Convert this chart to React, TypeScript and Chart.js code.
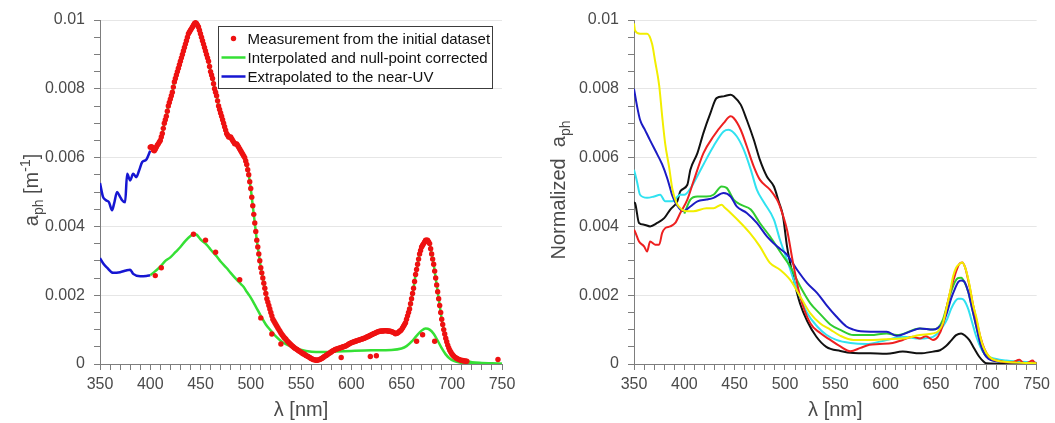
import React, { useEffect, useRef } from 'react';
import { Chart, registerables } from 'chart.js';

Chart.register(...registerables);

const FONT = '"Liberation Sans", Arial, Helvetica, sans-serif';
const AXIS_TEXT = '#4a4a4a';
const AXIS_LINE = '#7d7d7d';
const GRID = '#e6e6e6';

// ---------- axes ----------
const X_MIN = 350;
const X_MAX = 750;
const X_STEP = 10;
const Y_MIN = 0;
const Y_MAX = 0.01;
const Y_STEP = 0.0005;

const legendLabels = [
  'Measurement from the initial dataset',
  'Interpolated and null-point corrected',
  'Extrapolated to the near-UV',
];

// ---------- left panel ----------
// dense measurement, wavelengths 400..715 nm every 1 nm
const measuredHighStart = 400;
const measuredHighStep = 1;
const measuredHigh = [
  0.0063, 0.00632, 0.0063, 0.00622, 0.0062, 0.00624, 0.0063, 0.00636, 0.0064, 0.00645,
  0.0065, 0.0066, 0.0067, 0.00685, 0.007, 0.0071, 0.0072, 0.00735, 0.0075, 0.0076,
  0.0077, 0.0078, 0.0079, 0.00805, 0.0082, 0.0083, 0.0084, 0.0085, 0.0086, 0.0087,
  0.0088, 0.0089, 0.009, 0.0091, 0.0092, 0.0093, 0.0094, 0.0095, 0.0096, 0.00965,
  0.0097, 0.00975, 0.0098, 0.00985, 0.0099, 0.00992, 0.0099, 0.00985, 0.0098, 0.0097,
  0.0096, 0.0095, 0.0094, 0.0093, 0.0092, 0.0091, 0.009, 0.0089, 0.0088, 0.00865,
  0.0085, 0.0084, 0.0083, 0.00815, 0.008, 0.0079, 0.0078, 0.00765, 0.0075, 0.0074,
  0.0073, 0.0072, 0.0071, 0.007, 0.0069, 0.0068, 0.0067, 0.00665, 0.0066, 0.0066,
  0.0066, 0.00655, 0.0065, 0.00645, 0.0064, 0.0064, 0.0064, 0.00635, 0.0063, 0.00625,
  0.0062, 0.00615, 0.0061, 0.00605, 0.006, 0.0059, 0.0058, 0.00565, 0.0055, 0.0053,
  0.0051, 0.00485, 0.0046, 0.00435, 0.0041, 0.00385, 0.0036, 0.0034, 0.0032, 0.003,
  0.0028, 0.00265, 0.0025, 0.00235, 0.0022, 0.00205, 0.0019, 0.0018, 0.0017, 0.0016,
  0.0015, 0.0014, 0.0013, 0.00125, 0.0012, 0.00115, 0.0011, 0.00105, 0.001, 0.00095,
  0.0009, 0.00086, 0.00082, 0.00078, 0.00075, 0.00072, 0.00068, 0.00065, 0.00062, 0.00059,
  0.00056, 0.00053, 0.00051, 0.00048, 0.00046, 0.00044, 0.00042, 0.0004, 0.00038, 0.00036,
  0.00034, 0.00032, 0.0003, 0.00029, 0.00027, 0.00025, 0.00023, 0.00022, 0.0002, 0.00018,
  0.00016, 0.00015, 0.00013, 0.00012, 0.00012, 0.00011, 0.00011, 0.00012, 0.00012, 0.00014,
  0.00015, 0.00017, 0.00019, 0.00021, 0.00023, 0.00025, 0.00027, 0.00029, 0.00031, 0.00033,
  0.00035, 0.00037, 0.00039, 0.0004, 0.00042, 0.00043, 0.00044, 0.00045, 0.00046, 0.00047,
  0.00048, 0.00049, 0.0005, 0.00051, 0.00052, 0.00053, 0.00055, 0.00057, 0.00059, 0.0006,
  0.00062, 0.00063, 0.00064, 0.00065, 0.00066, 0.00067, 0.00068, 0.00069, 0.0007, 0.00071,
  0.00072, 0.00073, 0.00074, 0.00075, 0.00076, 0.00078, 0.00079, 0.0008, 0.00082, 0.00083,
  0.00085, 0.00086, 0.00088, 0.00089, 0.0009, 0.00092, 0.00093, 0.00094, 0.00095, 0.00095,
  0.00096, 0.00096, 0.00096, 0.00097, 0.00097, 0.00097, 0.00096, 0.00096, 0.00095, 0.00095,
  0.00094, 0.00093, 0.00092, 0.0009, 0.00088, 0.00089, 0.0009, 0.00092, 0.00095, 0.00097,
  0.001, 0.00105, 0.0011, 0.00115, 0.0012, 0.0013, 0.0014, 0.0015, 0.0016, 0.00175,
  0.0019, 0.00205, 0.0022, 0.0024, 0.0026, 0.00275, 0.0029, 0.00305, 0.0032, 0.0033,
  0.0034, 0.00345, 0.0035, 0.00355, 0.0036, 0.0036, 0.0036, 0.00355, 0.0035, 0.00335,
  0.0032, 0.00305, 0.0029, 0.0027, 0.0025, 0.0023, 0.0021, 0.0019, 0.0017, 0.0015,
  0.0013, 0.00115, 0.001, 0.00087, 0.00075, 0.00065, 0.00055, 0.00047, 0.0004, 0.00035,
  0.0003, 0.00026, 0.00023, 0.0002, 0.00018, 0.00016, 0.00015, 0.00013, 0.00012, 0.00011,
  0.0001, 0.0001, 0.00009, 0.00009, 0.00008, 0.00008,
];
const correctedHighTailWl = [720, 730, 740, 750];
const correctedHighTail = [0.00005, 0.00003, 0.00002, 0.00001];

const extrapHighWl = [350, 353, 356, 359, 362, 364, 367, 370, 372, 375, 377, 380, 383, 386, 389, 392, 396, 400];
const extrapHigh = [0.00526, 0.00486, 0.00476, 0.0047, 0.00447, 0.00466, 0.005, 0.00486, 0.00476, 0.0047, 0.00553, 0.00534, 0.00553, 0.00543, 0.00563, 0.00587, 0.00594, 0.0062];

const measuredLowWl = [405, 411, 443, 455, 465, 489, 510, 521, 530, 590, 619, 625, 665, 671, 683, 746];
const measuredLow = [0.00257, 0.0028, 0.00377, 0.0036, 0.00325, 0.00245, 0.00134, 0.00087, 0.00058, 0.00019, 0.00022, 0.00024, 0.00066, 0.00085, 0.00066, 0.00013];

const correctedLowWl = [400, 405, 410, 415, 420, 425, 430, 435, 440, 443, 446, 450, 456, 460, 466, 470, 476, 480, 486, 490, 493, 496, 500, 505, 510, 515, 520, 525, 530, 536, 545, 555, 565, 575, 585, 600, 620, 640, 650, 655, 660, 665, 670, 674, 678, 682, 686, 690, 694, 698, 702, 708, 715, 730, 750];
const correctedLow = [0.00258, 0.0027, 0.00283, 0.003, 0.0031, 0.00325, 0.0034, 0.00358, 0.00372, 0.00378, 0.00376, 0.00362, 0.00347, 0.00333, 0.00313, 0.00298, 0.00279, 0.00265, 0.00245, 0.00233, 0.00224, 0.0021, 0.00193, 0.00167, 0.0014, 0.00115, 0.00097, 0.0008, 0.00067, 0.00056, 0.00045, 0.00038, 0.00035, 0.00035, 0.00036, 0.00038, 0.0004, 0.00041, 0.00045, 0.00052, 0.00065, 0.00082, 0.00097, 0.00103, 0.001, 0.00088, 0.00068, 0.00046, 0.00028, 0.00016, 0.00009, 0.00004, 0.00002, 0.00001, 0];

const extrapLowWl = [350, 354, 357, 363, 370, 376, 380, 383, 390, 396, 400];
const extrapLow = [0.00308, 0.00289, 0.0028, 0.00265, 0.00267, 0.00272, 0.00274, 0.00262, 0.00255, 0.00256, 0.00258];

// ---------- right panel ----------
const yellowWl = [350, 351, 356, 363, 368, 371, 375, 378, 381, 385, 388, 392, 396, 400, 409, 422, 429, 437, 440, 446, 456, 465, 475, 485, 495, 505, 515, 525, 535, 545, 555, 568, 585, 601, 617, 634, 647, 652, 657, 661, 664, 667, 670, 673, 676, 679, 683, 687, 690, 694, 697, 703, 710, 716, 730, 750];
const yellowVals = [0.0099, 0.0097, 0.0096, 0.0096, 0.0093, 0.0088, 0.0081, 0.0072, 0.0064, 0.0057, 0.0051, 0.0047, 0.00453, 0.00445, 0.00444, 0.00453, 0.00453, 0.00463, 0.00455, 0.00439, 0.0041, 0.00381, 0.00342, 0.00294, 0.00274, 0.00245, 0.00197, 0.00148, 0.00118, 0.001, 0.00082, 0.0007, 0.0007, 0.00072, 0.00074, 0.00084, 0.00089, 0.00095, 0.0012, 0.0017, 0.0021, 0.00255, 0.0028, 0.0029, 0.00295, 0.0028, 0.00234, 0.0017, 0.00137, 0.0008, 0.0005, 0.00021, 0.0001, 0.00007, 0.00004, 0.00002];

const blueWl = [350, 353, 356, 361, 366, 373, 378, 383, 386, 388, 393, 399, 406, 413, 422, 429, 439, 446, 452, 462, 472, 482, 492, 502, 512, 522, 532, 541, 551, 561, 568, 575, 585, 601, 611, 624, 634, 647, 652, 657, 661, 665, 669, 672, 675, 678, 682, 686, 690, 694, 698, 702, 710, 730, 750];
const blueVals = [0.008, 0.0075, 0.0071, 0.0068, 0.0065, 0.0061, 0.0058, 0.0054, 0.0051, 0.0049, 0.0046, 0.00444, 0.00458, 0.00473, 0.00478, 0.00483, 0.00497, 0.00487, 0.00458, 0.00439, 0.0041, 0.00371, 0.00342, 0.00318, 0.00274, 0.00235, 0.00206, 0.00172, 0.00138, 0.00109, 0.001, 0.00095, 0.00094, 0.00094, 0.00082, 0.00094, 0.00103, 0.001, 0.00105, 0.0012, 0.0015, 0.0019, 0.0022, 0.00238, 0.00243, 0.0024, 0.0021, 0.0016, 0.0011, 0.0006, 0.0003, 0.00015, 0.00008, 0.00004, 0.00002];

const cyanWl = [350, 353, 356, 363, 370, 376, 381, 388, 396, 400, 406, 410, 419, 429, 439, 444, 452, 459, 466, 472, 479, 489, 495, 502, 512, 522, 532, 541, 551, 565, 581, 601, 617, 634, 647, 652, 657, 661, 665, 669, 672, 675, 678, 682, 686, 690, 694, 698, 705, 720, 750];
const cyanVals = [0.00565, 0.0053, 0.00492, 0.00483, 0.00487, 0.00492, 0.00473, 0.00473, 0.00492, 0.00492, 0.0051, 0.0053, 0.0058, 0.00633, 0.00676, 0.00681, 0.00662, 0.00623, 0.00565, 0.00507, 0.0047, 0.0042, 0.00361, 0.00303, 0.00216, 0.00148, 0.00109, 0.00085, 0.0007, 0.00061, 0.00058, 0.0007, 0.00079, 0.00074, 0.00079, 0.0009, 0.0011, 0.0013, 0.0016, 0.00182, 0.0019, 0.0019, 0.00185, 0.0016, 0.0012, 0.0008, 0.0005, 0.0003, 0.00018, 0.0001, 0.00004];

const blackWl = [350, 351, 355, 360, 366, 373, 380, 386, 393, 396, 403, 406, 413, 419, 426, 432, 439, 446, 449, 456, 462, 469, 475, 482, 489, 494, 498, 502, 508, 515, 522, 531, 541, 555, 568, 585, 601, 617, 634, 647, 654, 660, 665, 670, 675, 679, 683, 688, 693, 697, 700, 750];
const blackVals = [0.0047, 0.00468, 0.0041, 0.00405, 0.004, 0.0041, 0.00424, 0.00449, 0.00473, 0.00502, 0.00521, 0.00565, 0.00613, 0.00672, 0.0073, 0.00773, 0.00778, 0.00783, 0.00778, 0.00754, 0.0071, 0.00652, 0.00594, 0.00545, 0.00516, 0.0047, 0.0043, 0.00342, 0.00255, 0.00175, 0.00125, 0.0008, 0.0005, 0.00038, 0.00032, 0.00031, 0.0003, 0.00036, 0.00031, 0.00036, 0.0004, 0.00052, 0.00068, 0.00084, 0.00089, 0.00082, 0.0007, 0.00045, 0.00021, 0.00008, 0.00002, 0];

const redWl = [350, 351, 355, 360, 363, 366, 371, 375, 378, 381, 386, 391, 396, 403, 409, 419, 429, 439, 446, 449, 456, 462, 469, 475, 485, 492, 495, 502, 508, 515, 525, 535, 545, 555, 565, 575, 584, 594, 607, 617, 627, 634, 640, 647, 652, 657, 661, 665, 669, 673, 676, 679, 683, 687, 690, 694, 698, 703, 710, 725, 733, 736, 740, 746, 748, 750];
const redVals = [0.0039, 0.00385, 0.00356, 0.00342, 0.00327, 0.00356, 0.00347, 0.00347, 0.00381, 0.00395, 0.004, 0.0041, 0.00439, 0.00478, 0.0053, 0.00613, 0.00662, 0.007, 0.0072, 0.00715, 0.00681, 0.00633, 0.00574, 0.00536, 0.00507, 0.00478, 0.00458, 0.0039, 0.00294, 0.00197, 0.00119, 0.0009, 0.0007, 0.00051, 0.00037, 0.00047, 0.00056, 0.00058, 0.00061, 0.0007, 0.00079, 0.00074, 0.00081, 0.0007, 0.0008, 0.00115, 0.0017, 0.0022, 0.0026, 0.0029, 0.00295, 0.0028, 0.0023, 0.0017, 0.0013, 0.0008, 0.00045, 0.0002, 0.0001, 0.00004, 0.00012, 0.00005, 0.00003, 0.0001, 0.00004, 0.00003];

const greenWl = [400, 406, 413, 422, 429, 437, 442, 449, 456, 466, 475, 485, 495, 505, 515, 525, 535, 545, 555, 568, 585, 601, 611, 634, 647, 652, 657, 661, 665, 669, 672, 675, 678, 682, 686, 690, 694, 698, 703, 712, 730, 750];
const greenVals = [0.00437, 0.00478, 0.00487, 0.00487, 0.00492, 0.00516, 0.00512, 0.00478, 0.00463, 0.00449, 0.0041, 0.00371, 0.00327, 0.00284, 0.00226, 0.00177, 0.00145, 0.00115, 0.00099, 0.00084, 0.00084, 0.00089, 0.00084, 0.00103, 0.001, 0.00105, 0.0013, 0.0017, 0.0021, 0.0024, 0.0025, 0.00251, 0.0024, 0.0021, 0.0016, 0.0011, 0.0006, 0.0003, 0.00015, 0.00008, 0.00004, 0.00002];

// ---------- colours ----------
const C_RED_DOT = '#ee1111';
const C_GREEN = '#35e035';
const C_BLUE = '#1616d2';

// ---------- helpers ----------
const pts = (xs: number[], ys: number[]) => xs.map((x, i) => ({ x, y: ys[i] }));
const gridPts = (start: number, step: number, ys: number[]) => ys.map((y, i) => ({ x: start + i * step, y }));

const isMajorY = (v: number) => Math.round(v / Y_STEP) % 4 === 0;
const isMajorX = (v: number) => Math.round(v) % 50 === 0;
const fmtY = (v: number) => (Math.abs(v) < 1e-12 ? '0' : String(parseFloat(v.toFixed(4))));

type Part = { text: string; size: number; shift: number };

function drawRotated(ctx: CanvasRenderingContext2D, cx: number, cy: number, parts: Part[]) {
  ctx.save();
  ctx.translate(cx, cy);
  ctx.rotate(-Math.PI / 2);
  ctx.textBaseline = 'alphabetic';
  ctx.textAlign = 'left';
  ctx.fillStyle = AXIS_TEXT;
  const widths = parts.map((p) => {
    ctx.font = `${p.size}px ${FONT}`;
    return ctx.measureText(p.text).width;
  });
  const total = widths.reduce((a, b) => a + b, 0);
  let x = -total / 2;
  parts.forEach((p, i) => {
    ctx.font = `${p.size}px ${FONT}`;
    ctx.fillText(p.text, x, p.shift);
    x += widths[i];
  });
  ctx.restore();
}

function makeScales(yWidth: number) {
  return {
    x: {
      type: 'linear',
      min: X_MIN,
      max: X_MAX,
      afterFit: (s: any) => {
        s.height = 59;
      },
      ticks: {
        stepSize: X_STEP,
        autoSkip: false,
        maxRotation: 0,
        minRotation: 0,
        padding: 5,
        color: AXIS_TEXT,
        font: { family: FONT, size: 16 },
        callback: (v: any) => (isMajorX(Number(v)) ? String(Math.round(Number(v))) : ''),
      },
      grid: {
        drawOnChartArea: false,
        drawTicks: true,
        tickLength: 6,
        tickColor: AXIS_LINE,
        tickWidth: 1,
      },
      border: { display: true, color: AXIS_LINE, width: 1 },
      title: {
        display: true,
        text: 'λ [nm]',
        color: AXIS_TEXT,
        font: { family: FONT, size: 20 },
        padding: { top: 0, bottom: 1 },
      },
    },
    y: {
      type: 'linear',
      min: Y_MIN,
      max: Y_MAX,
      afterFit: (s: any) => {
        s.width = yWidth;
      },
      ticks: {
        stepSize: Y_STEP,
        autoSkip: false,
        padding: 9,
        color: AXIS_TEXT,
        font: { family: FONT, size: 16 },
        callback: (v: any) => (isMajorY(Number(v)) ? fmtY(Number(v)) : ''),
      },
      grid: {
        drawOnChartArea: true,
        drawTicks: true,
        tickLength: 6,
        tickColor: AXIS_LINE,
        tickWidth: 1,
        color: (c: any) =>
          c.tick && isMajorY(c.tick.value) && c.tick.value > 0 ? GRID : 'rgba(0,0,0,0)',
      },
      border: { display: true, color: AXIS_LINE, width: 1 },
    },
  };
}

const lineDs = (data: any[], color: string, width: number) => ({
  data,
  borderColor: color,
  backgroundColor: color,
  borderWidth: width,
  pointRadius: 0,
  fill: false,
  cubicInterpolationMode: 'monotone',
});

const dotDs = (data: any[]) => ({
  data,
  showLine: false,
  pointRadius: 2.7,
  pointBackgroundColor: C_RED_DOT,
  pointBorderWidth: 0,
  borderColor: C_RED_DOT,
});

const leftDecor = {
  id: 'leftDecor',
  afterDraw(chart: any) {
    const { ctx, chartArea } = chart;
    drawRotated(ctx, 38, 190, [
      { text: 'a', size: 20, shift: 0 },
      { text: 'ph', size: 14, shift: 5 },
      { text: ' [m', size: 20, shift: 0 },
      { text: '-1', size: 14, shift: -8 },
      { text: ']', size: 20, shift: 0 },
    ]);
    // legend box
    const w = 274;
    const h = 62;
    const x0 = Math.round(chartArea.right - 10 - w) + 0.5;
    const y0 = Math.round(chartArea.top + 6) + 0.5;
    ctx.save();
    ctx.fillStyle = '#ffffff';
    ctx.fillRect(x0, y0, w, h);
    ctx.strokeStyle = '#3c3c3c';
    ctx.lineWidth = 1;
    ctx.strokeRect(x0, y0, w, h);
    ctx.font = `15px ${FONT}`;
    ctx.textBaseline = 'middle';
    ctx.textAlign = 'left';
    const rows = [y0 + 12, y0 + 31, y0 + 50];
    ctx.beginPath();
    ctx.arc(x0 + 15, rows[0], 2.7, 0, Math.PI * 2);
    ctx.fillStyle = C_RED_DOT;
    ctx.fill();
    ctx.lineWidth = 2.5;
    ctx.strokeStyle = C_GREEN;
    ctx.beginPath();
    ctx.moveTo(x0 + 3, rows[1]);
    ctx.lineTo(x0 + 27, rows[1]);
    ctx.stroke();
    ctx.strokeStyle = C_BLUE;
    ctx.beginPath();
    ctx.moveTo(x0 + 3, rows[2]);
    ctx.lineTo(x0 + 27, rows[2]);
    ctx.stroke();
    ctx.fillStyle = '#111111';
    legendLabels.forEach((t, i) => ctx.fillText(t, x0 + 29, rows[i] + 1));
    ctx.restore();
  },
};

const rightDecor = {
  id: 'rightDecor',
  afterDraw(chart: any) {
    drawRotated(chart.ctx, 35, 190, [
      { text: 'Normalized  a', size: 20, shift: 0 },
      { text: 'ph', size: 14, shift: 5 },
    ]);
  },
};

function useChart(ref: React.RefObject<HTMLCanvasElement>, build: () => any) {
  useEffect(() => {
    if (!ref.current) return;
    const chart = new Chart(ref.current, build());
    return () => chart.destroy();
  }, []);
}

export default function App() {
  const leftRef = useRef<HTMLCanvasElement>(null);
  const rightRef = useRef<HTMLCanvasElement>(null);

  useChart(leftRef, () => ({
    type: 'line',
    data: {
      datasets: [
        dotDs(gridPts(measuredHighStart, measuredHighStep, measuredHigh)),
        dotDs(pts(measuredLowWl, measuredLow)),
        lineDs(
          [...gridPts(measuredHighStart, measuredHighStep, measuredHigh), ...pts(correctedHighTailWl, correctedHighTail)],
          C_GREEN,
          2.5
        ),
        lineDs(pts(correctedLowWl, correctedLow), C_GREEN, 2.5),
        lineDs(pts(extrapHighWl, extrapHigh), C_BLUE, 2.5),
        lineDs(pts(extrapLowWl, extrapLow), C_BLUE, 2.5),
      ],
    },
    options: {
      responsive: false,
      animation: false,
      layout: { padding: { top: 20, right: 28, left: 0, bottom: 0 } },
      plugins: { legend: { display: false }, tooltip: { enabled: false } },
      scales: makeScales(100),
    },
    plugins: [leftDecor],
  }));

  useChart(rightRef, () => ({
    type: 'line',
    data: {
      datasets: [
        lineDs(pts(yellowWl, yellowVals), '#f2ee00', 2),
        lineDs(pts(redWl, redVals), '#ee2020', 2),
        lineDs(pts(blueWl, blueVals), '#1c1cc4', 2),
        lineDs(pts(greenWl, greenVals), '#30cc30', 2),
        lineDs(pts(cyanWl, cyanVals), '#30e2f0', 2),
        lineDs(pts(blackWl, blackVals), '#111111', 2),
      ],
    },
    options: {
      responsive: false,
      animation: false,
      layout: { padding: { top: 20, right: 18, left: 0, bottom: 0 } },
      plugins: { legend: { display: false }, tooltip: { enabled: false } },
      scales: makeScales(104),
    },
    plugins: [rightDecor],
  }));

  return (
    <div
      style={{
        position: 'fixed',
        left: 0,
        top: 0,
        width: 1055,
        height: 423,
        background: '#ffffff',
        display: 'flex',
      }}
    >
      <canvas ref={leftRef} width={530} height={423} style={{ display: 'block', width: 530, height: 423 }} />
      <canvas ref={rightRef} width={525} height={423} style={{ display: 'block', width: 525, height: 423 }} />
    </div>
  );
}
